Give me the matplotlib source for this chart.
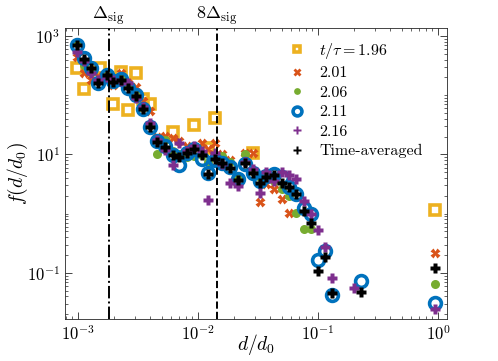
import numpy as np
import matplotlib
matplotlib.use("Agg")
import matplotlib.pyplot as plt
from matplotlib.ticker import LogLocator, NullFormatter

plt.rcParams['font.family'] = ['cmr10', 'DejaVu Serif']
plt.rcParams['mathtext.fontset'] = 'cm'
plt.rcParams['axes.formatter.use_mathtext'] = True

# values, stored as log10(d/d0) and log10(f)
x_196 = [-3.01, -2.95, -2.82, -2.705, -2.645, -2.58, -2.52, -2.456, -2.40, -2.21, -2.033, -1.92, -1.86, -1.545, -0.025]
y_196 = [2.455, 2.10, 2.455, 1.86, 2.40, 1.75, 2.37, 1.93, 1.85, 1.385, 1.50, 1.105, 1.61, 1.03, 0.063]

x_201 = [-3.01, -2.95, -2.89, -2.83, -2.76, -2.705, -2.645, -2.58, -2.52, -2.46, -2.40, -2.34, -2.275, -2.21, -2.16,
         -2.09, -2.03, -1.97, -1.92, -1.86, -1.80, -1.73, -1.67, -1.61, -1.545, -1.48, -1.43, -1.37, -1.30, -1.24, -0.025]
y_201 = [2.65, 2.37, 2.26, 2.325, 2.30, 2.17, 2.38, 2.20, 2.145, 1.90, 1.74, 1.30, 1.31, 1.27, 1.22,
         1.15, 1.12, 1.19, 1.10, 1.19, 1.00, 0.90, 0.60, 1.02, 1.02, 0.20, 0.50, 0.41, 0.244, 0.006, -0.66]

x_206 = [-3.01, -2.95, -2.89, -2.83, -2.76, -2.705, -2.645, -2.58, -2.52, -2.46, -2.40, -2.34, -2.275, -2.21, -2.16,
         -2.09, -2.03, -1.97, -1.92, -1.86, -1.80, -1.73, -1.67, -1.61, -1.545, -1.48, -1.43, -1.37, -1.30, -1.24,
         -1.18, -1.12, -1.055, -0.025]
y_206 = [2.90, 2.51, 2.40, 2.25, 2.40, 2.28, 2.30, 2.18, 2.00, 1.78, 1.50, 1.01, 1.25, 1.05, 1.00,
         0.95, 0.97, 0.99, 0.88, 0.95, 0.975, 0.88, 0.60, 1.00, 0.72, 0.615, 0.65, 0.55, 0.41, 0.29,
         0.006, -0.26, -0.26, -1.19]

x_211 = [-3.01, -2.95, -2.89, -2.83, -2.76, -2.705, -2.645, -2.58, -2.52, -2.46, -2.40, -2.34, -2.275, -2.21, -2.16,
         -2.09, -2.03, -1.97, -1.92, -1.86, -1.80, -1.73, -1.67, -1.61, -1.545, -1.48, -1.43, -1.37, -1.30, -1.24,
         -1.18, -1.12, -1.055, -1.00, -0.94, -0.88, -0.64, -0.025]
y_211 = [2.85, 2.63, 2.46, 2.20, 2.35, 2.24, 2.27, 2.12, 2.00, 1.77, 1.47, 1.22, 1.14, 0.99, 0.82,
         1.03, 1.10, 0.92, 0.68, 0.91, 0.86, 0.78, 0.58, 0.84, 0.69, 0.55, 0.64, 0.67, 0.615, 0.45,
         0.33, 0.09, 0.00, -0.78, -0.63, -1.37, -1.135, -1.51]

x_216 = [-3.01, -2.95, -2.89, -2.83, -2.76, -2.705, -2.645, -2.58, -2.52, -2.46, -2.40, -2.34, -2.275, -2.21, -2.16,
         -2.09, -2.03, -1.97, -1.92, -1.86, -1.80, -1.73, -1.67, -1.61, -1.545, -1.48, -1.43, -1.37, -1.30, -1.24,
         -1.18, -1.12, -1.055, -1.00, -0.94, -0.88, -0.70, -0.025]
y_216 = [2.73, 2.58, 2.38, 2.25, 2.31, 2.25, 2.24, 2.20, 1.95, 1.80, 1.53, 1.24, 1.08, 0.82, 1.20,
         1.06, 1.15, 1.05, 0.23, 1.03, 0.84, 0.52, 0.47, 0.88, 0.75, 0.345, 0.71, 0.55, 0.70, 0.655,
         0.58, 0.22, -0.01, -0.27, -0.556, -1.08, -1.26, -1.61]

x_avg = [-3.01, -2.95, -2.89, -2.83, -2.76, -2.705, -2.645, -2.58, -2.52, -2.46, -2.40, -2.34, -2.275, -2.21, -2.16,
         -2.09, -2.03, -1.97, -1.92, -1.86, -1.80, -1.73, -1.67, -1.61, -1.545, -1.48, -1.43, -1.37, -1.30, -1.24,
         -1.18, -1.12, -1.055, -1.00, -0.94, -0.88, -0.64, -0.025]
y_avg = [2.85, 2.61, 2.455, 2.21, 2.34, 2.23, 2.26, 2.12, 1.99, 1.76, 1.47, 1.215, 1.13, 0.99, 0.96,
         1.02, 1.09, 0.99, 0.67, 0.92, 0.85, 0.767, 0.57, 0.85, 0.69, 0.52, 0.625, 0.66, 0.52, 0.45,
         0.33, 0.05, -0.16, -0.97, -0.74, -1.34, -1.316, -0.92]

delta_sig = 1.8e-3
labels = ['$t/\\tau = 1.96$', '2.01', '2.06', '2.11', '2.16', 'Time-averaged']

fig = plt.figure(figsize=(4.98, 3.61), dpi=100)
ax = fig.add_axes([0.1305, 0.1163, 0.767, 0.806])

def p(v):
    return 10 ** np.array(v)

ax.plot(p(x_196), p(y_196), 's', ms=6.5, mfc='none', mec='#EDB120', mew=2.6, label=labels[0])
ax.plot(p(x_201), p(y_201), 'X', ms=7, color='#D95319', mec='none', label=labels[1])
ax.plot(p(x_206), p(y_206), 'o', ms=6.5, color='#77AC30', mec='none', label=labels[2])
ax.plot(p(x_211), p(y_211), 'o', ms=8.5, mfc='none', mec='#0072BD', mew=2.6, label=labels[3])
ax.plot(p(x_216), p(y_216), 'P', ms=7.5, color='#7E2F8E', mec='none', label=labels[4])
ax.plot(p(x_avg), p(y_avg), 'P', ms=7.5, color='black', mec='none', label=labels[5])

ax.axvline(delta_sig, color='black', ls='-.', lw=1.4)
ax.axvline(8 * delta_sig, color='black', ls='--', lw=1.4)

ax.set_xscale('log')
ax.set_yscale('log')
ax.set_xlim(10 ** -3.108, 10 ** 0.075)
ax.set_ylim(10 ** -1.78, 10 ** 3.135)
ax.set_xticks([1e-3, 1e-2, 1e-1, 1e0])
ax.set_yticks([1e-1, 1e1, 1e3])
ax.xaxis.set_minor_locator(LogLocator(base=10, subs=np.arange(2, 10), numticks=20))
ax.yaxis.set_minor_locator(LogLocator(base=10, subs=np.arange(1, 10), numticks=20))
ax.xaxis.set_minor_formatter(NullFormatter())
ax.yaxis.set_minor_formatter(NullFormatter())
ax.tick_params(which='both', direction='in', top=True, right=True, color='#262626', labelsize=12)
ax.tick_params(which='major', length=5, width=0.6)
ax.tick_params(which='minor', length=2.5, width=0.5)
for s in ax.spines.values():
    s.set_color('#262626')
    s.set_linewidth(0.6)

ax.set_xlabel('$d/d_0$', fontsize=14)
ax.xaxis.set_label_coords(0.5, -0.045)
ax.set_ylabel('$f(d/d_0)$', fontsize=14, labelpad=-2)

ax.text(delta_sig, 1.004, '$\\Delta_{\\rm sig}$', transform=ax.get_xaxis_transform(),
        ha='center', va='bottom', fontsize=13)
ax.text(8 * delta_sig, 1.004, '$8\\Delta_{\\rm sig}$', transform=ax.get_xaxis_transform(),
        ha='center', va='bottom', fontsize=13)

ax.legend(loc='upper right', frameon=False, fontsize=11.5, handletextpad=0.8, markerscale=0.75,
          borderaxespad=0.4, labelspacing=0.33, handlelength=1.2, bbox_to_anchor=(0.97, 1.0))

fig.savefig('out.png', dpi=100)
